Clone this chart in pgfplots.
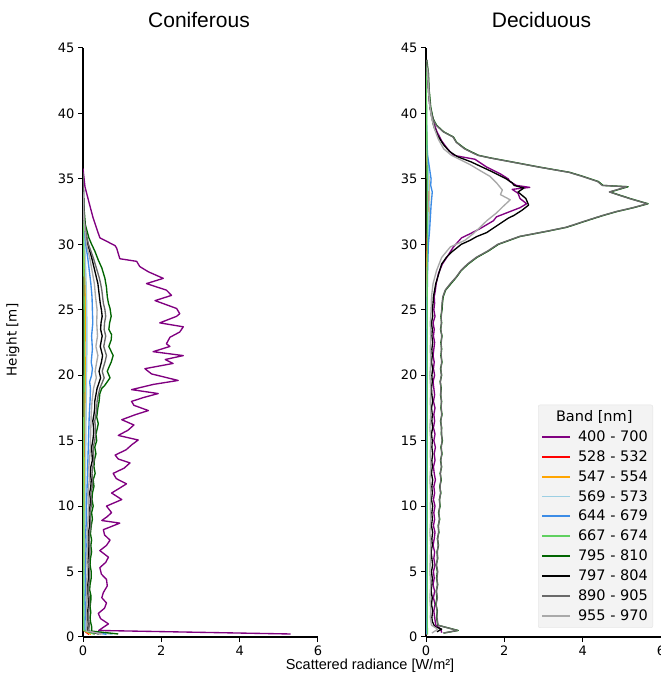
\documentclass[border=0pt]{standalone}
\usepackage{fontspec}
\setmainfont{DejaVu Sans}
\newfontfamily\arial{Liberation Sans}
\usepackage{pgfplots}
\pgfplotsset{compat=1.18}
\definecolor{colPurple}{HTML}{800080}
\definecolor{colRed}{HTML}{FF0000}
\definecolor{colOrange}{HTML}{FFA500}
\definecolor{colLBlue}{HTML}{9CCFE3}
\definecolor{colBlue}{HTML}{3C8CE6}
\definecolor{colLGreen}{HTML}{60D060}
\definecolor{colGreen}{HTML}{006400}
\definecolor{colBlack}{HTML}{000000}
\definecolor{colDGrey}{HTML}{696969}
\definecolor{colLGrey}{HTML}{A9A9A9}
\definecolor{lgbg}{HTML}{F3F3F3}
\pgfplotsset{
  panel/.style={
    scale only axis, width=235pt, height=589pt, anchor=south west,
    xmin=0, xmax=6, ymin=0, ymax=45,
    axis x line*=bottom, axis y line*=left,
    axis line style={-, black, line width=1.2pt},
    xtick={0,2,4,6}, ytick={0,5,...,45},
    tick align=outside, major tick length=5pt,
    tick style={black, line width=1pt},
    ticklabel style={font=\fontsize{13}{13}\selectfont},
    /pgf/number format/assume math mode=true,
    every axis plot/.append style={line width=1.35pt, line join=round},
  }
}
\begin{document}
\begin{tikzpicture}
% ---------------- Coniferous ----------------
\begin{axis}[panel, at={(83pt,44pt)}]
\addplot[draw=colPurple] coordinates {(5.30,0.23)(0.40,0.5)(0.65,1.0)(0.45,1.4)(0.39,1.8)(0.55,2.2)(0.60,2.6)(0.48,3.0)(0.52,3.4)(0.62,3.9)(0.60,4.4)(0.47,4.8)(0.43,5.3)(0.58,5.7)(0.65,6.1)(0.43,6.6)(0.60,7.0)(0.69,7.4)(0.55,7.8)(0.52,8.2)(0.94,8.7)(0.48,8.9)(0.62,9.2)(0.73,9.5)(0.60,10.0)(0.99,10.5)(0.73,11.0)(0.95,11.4)(1.11,11.7)(0.85,12.1)(0.77,12.5)(1.05,12.9)(1.20,13.3)(0.90,13.6)(0.82,13.9)(1.10,14.3)(1.25,14.7)(1.41,15.05)(0.90,15.4)(1.15,15.8)(1.30,16.2)(0.99,16.6)(1.35,17.0)(1.67,17.3)(1.30,17.7)(1.24,18.0)(1.55,18.3)(1.92,18.6)(1.24,18.9)(1.80,19.3)(2.43,19.6)(1.75,20.1)(1.58,20.5)(2.30,20.9)(2.10,21.2)(2.56,21.5)(1.79,21.8)(2.22,22.2)(2.13,22.4)(2.22,22.9)(2.47,23.3)(2.56,23.7)(1.96,24.0)(2.39,24.5)(2.47,24.7)(2.39,25.1)(1.84,25.7)(2.26,26.1)(2.13,26.5)(1.62,27.0)(2.05,27.4)(1.67,27.9)(1.45,28.3)(1.37,28.7)(0.94,28.9)(0.90,29.3)(0.86,29.7)(0.82,29.9)(0.43,30.5)(0.35,31.2)(0.26,32.0)(0.18,32.9)(0.05,34.4)(0.00,35.8)};
\addplot[draw=colRed] coordinates {(0.15,0.2)(0.02,0.5)(0.02,3)(0.02,8)(0.03,12)(0.03,16)(0.04,20)(0.04,24)(0.03,28)(0.02,30)(0.01,32)(0.0,34)};
\addplot[draw=colOrange] coordinates {(0.20,0.2)(0.03,0.5)(0.03,2)(0.03,5)(0.04,8)(0.04,11)(0.05,14)(0.05,17)(0.06,20)(0.05,22)(0.06,24)(0.06,26)(0.05,28)(0.04,29.5)(0.02,31)(0.01,33)(0.0,35)};
\addplot[draw=colLBlue] coordinates {(0.75,0.2)(0.04,0.5)(0.04,2)(0.05,5)(0.05,8)(0.06,11)(0.07,14)(0.08,17)(0.09,20)(0.10,22)(0.10,24)(0.09,26)(0.07,28)(0.05,29.5)(0.03,31)(0.01,33)(0.0,35)};
\addplot[draw=colBlue] coordinates {(0.60,0.2)(0.05,0.5)(0.05,1)(0.06,2)(0.05,3)(0.07,4)(0.06,5)(0.07,6)(0.08,7)(0.07,8)(0.09,9)(0.09,10)(0.10,11)(0.11,12)(0.12,13)(0.13,14)(0.14,15)(0.15,16)(0.16,17)(0.18,18)(0.19,19)(0.17,19.5)(0.22,20)(0.24,20.5)(0.21,21)(0.24,22)(0.22,23)(0.25,24)(0.24,25)(0.23,26)(0.20,27)(0.16,28)(0.12,29)(0.07,30)(0.04,31)(0.02,32)(0.01,34)(0.0,35)};
\addplot[draw=colLGreen] coordinates {(0.30,0.2)(0.02,0.5)(0.02,5)(0.02,10)(0.02,15)(0.03,20)(0.03,25)(0.02,29)(0.01,31)(0.0,33)};
\addplot[draw=colGreen] coordinates {(0.90,0.23)(0.22,0.45)(0.22,0.8)(0.19,1.2)(0.18,1.5)(0.20,1.9)(0.18,2.3)(0.20,2.8)(0.20,3.2)(0.17,3.6)(0.18,4.0)(0.21,4.5)(0.21,5.0)(0.18,5.5)(0.19,6.0)(0.22,6.5)(0.20,7.0)(0.22,7.4)(0.19,7.9)(0.21,8.5)(0.24,9.0)(0.22,9.5)(0.26,10.0)(0.23,10.5)(0.24,11.0)(0.28,11.5)(0.26,12.0)(0.31,12.5)(0.28,13.0)(0.29,13.5)(0.33,14.0)(0.30,14.5)(0.35,15.0)(0.33,15.5)(0.37,16.0)(0.39,16.3)(0.35,16.8)(0.38,17.5)(0.41,18.0)(0.43,18.6)(0.48,19.0)(0.55,19.2)(0.69,19.8)(0.62,20.3)(0.66,20.6)(0.72,21.0)(0.77,21.5)(0.66,22.2)(0.72,22.7)(0.73,23.1)(0.66,23.5)(0.68,24.0)(0.72,24.5)(0.69,25.1)(0.65,25.5)(0.62,26.0)(0.60,26.7)(0.56,27.4)(0.48,28.2)(0.39,28.8)(0.30,29.5)(0.22,30.0)(0.15,30.5)(0.06,31.5)(0.02,33)(0.0,35)};
\addplot[draw=colBlack] coordinates {(0.40,0.23)(0.12,0.45)(0.13,1)(0.11,1.5)(0.12,2)(0.14,2.5)(0.13,3)(0.11,3.5)(0.12,4)(0.14,4.5)(0.14,5)(0.12,5.5)(0.13,6)(0.15,6.5)(0.15,7)(0.13,7.5)(0.14,8)(0.17,8.5)(0.16,9)(0.15,9.5)(0.18,10)(0.19,10.5)(0.17,11)(0.20,11.5)(0.21,12)(0.19,12.5)(0.20,13)(0.24,13.5)(0.23,14)(0.22,14.5)(0.25,15)(0.27,15.5)(0.27,16)(0.25,16.5)(0.28,17)(0.30,17.5)(0.30,18)(0.33,18.5)(0.36,19)(0.45,19.8)(0.41,20.3)(0.47,21)(0.50,21.5)(0.44,22.2)(0.49,23)(0.45,23.5)(0.46,24)(0.49,24.5)(0.47,25)(0.44,25.5)(0.42,26)(0.40,26.5)(0.38,27)(0.34,27.5)(0.30,28)(0.26,28.5)(0.22,29)(0.17,29.5)(0.12,30)(0.06,31)(0.03,32)(0.01,34)(0.0,35)};
\addplot[draw=colDGrey] coordinates {(0.45,0.23)(0.15,0.45)(0.16,1)(0.14,1.5)(0.15,2)(0.17,2.5)(0.16,3)(0.14,3.5)(0.15,4)(0.17,4.5)(0.17,5)(0.15,5.5)(0.16,6)(0.18,6.5)(0.18,7)(0.16,7.5)(0.17,8)(0.20,8.5)(0.19,9)(0.18,9.5)(0.21,10)(0.22,10.5)(0.20,11)(0.24,11.5)(0.25,12)(0.23,12.5)(0.25,13)(0.28,13.5)(0.27,14)(0.26,14.5)(0.30,15)(0.32,15.5)(0.32,16)(0.30,16.5)(0.33,17)(0.35,17.5)(0.36,18)(0.39,18.5)(0.43,19)(0.54,19.8)(0.49,20.3)(0.56,21)(0.60,21.5)(0.53,22.2)(0.58,23)(0.54,23.5)(0.55,24)(0.58,24.5)(0.56,25)(0.52,25.5)(0.50,26)(0.48,26.5)(0.45,27)(0.41,27.5)(0.36,28)(0.31,28.5)(0.26,29)(0.20,29.5)(0.14,30)(0.07,31)(0.03,32)(0.01,34)(0.0,35.5)};
\addplot[draw=colLGrey] coordinates {(0.50,0.23)(0.09,0.45)(0.10,1)(0.09,2)(0.10,3)(0.09,4)(0.11,5)(0.10,6)(0.12,7)(0.11,8)(0.13,9)(0.14,10)(0.13,11)(0.16,12)(0.15,13)(0.18,14)(0.19,15)(0.20,16)(0.21,17)(0.23,18)(0.27,19)(0.34,19.8)(0.31,20.3)(0.35,21)(0.38,21.5)(0.33,22.2)(0.37,23)(0.35,24)(0.36,25)(0.32,26)(0.29,27)(0.23,28)(0.17,29)(0.09,30)(0.05,31)(0.02,32)(0.0,34)};
\end{axis}
% ---------------- Deciduous ----------------
\begin{axis}[panel, at={(426pt,44pt)},
  legend style={at={(0.966,0.0153)}, anchor=south east, fill=lgbg, draw=lgbg!85!gray,
    rounded corners=2pt, font=\fontsize{14.5}{14.5}\selectfont, row sep=3.6pt,
    inner xsep=3pt, inner ysep=4pt,
    /tikz/every odd column/.append style={column sep=5pt}},
  legend cell align=left,
  legend image code/.code={\draw[#1, line width=1.8pt] (0pt,0pt) -- (28pt,0pt);},
]
\addlegendimage{empty legend}
\addlegendentry{\hspace*{-22pt}Band [nm]}
\addplot[draw=colPurple] coordinates {(0.40,0.33)(0.38,0.6)(0.25,0.9)(0.22,1.5)(0.20,2)(0.23,2.5)(0.19,3)(0.22,3.5)(0.18,4)(0.21,4.5)(0.19,5)(0.23,5.5)(0.20,6)(0.22,6.5)(0.18,7)(0.21,7.5)(0.23,8)(0.19,8.5)(0.22,9)(0.20,9.5)(0.23,10)(0.19,10.5)(0.22,11)(0.20,11.5)(0.24,12)(0.21,12.5)(0.19,13)(0.23,13.5)(0.21,14)(0.24,14.5)(0.20,15)(0.23,15.5)(0.19,16)(0.22,16.5)(0.20,17)(0.23,17.5)(0.19,18)(0.22,18.5)(0.20,19)(0.18,19.5)(0.22,20)(0.19,20.5)(0.21,21)(0.18,21.5)(0.20,22)(0.22,22.5)(0.19,23)(0.21,23.5)(0.18,24)(0.23,24.5)(0.20,25)(0.22,25.5)(0.21,26)(0.24,26.5)(0.26,27)(0.32,27.8)(0.42,28.5)(0.53,29.0)(0.70,29.8)(0.82,30.2)(0.91,30.5)(1.12,30.8)(1.38,31.2)(1.55,31.5)(1.72,31.8)(1.80,32.1)(1.97,32.3)(2.40,32.8)(2.57,33.1)(2.40,33.5)(2.35,33.9)(2.20,34.2)(2.65,34.35)(2.31,34.5)(2.14,34.8)(2.10,35.0)(1.89,35.4)(1.55,35.9)(1.25,36.5)(0.70,36.8)(0.55,37.3)(0.40,37.9)(0.28,38.6)(0.22,39.1)(0.19,39.5)(0.10,40.5)(0.07,41.5)(0.05,42.5)(0.03,43.5)};
\addlegendentry{400 - 700}
\addplot[draw=colRed] coordinates {(0.02,0.2)(0.01,5)(0.01,15)(0.01,25)(0.02,29)(0.03,30.5)(0.05,31.5)(0.06,32.5)(0.07,33.5)(0.06,34.5)(0.04,35.5)(0.02,36.5)(0.01,38)(0.0,40)};
\addlegendentry{528 - 532}
\addplot[draw=colOrange] coordinates {(0.03,0.2)(0.01,5)(0.01,15)(0.015,25)(0.03,29)(0.05,30.5)(0.07,31.5)(0.08,32.5)(0.09,33.5)(0.08,34.5)(0.06,35.5)(0.03,36.5)(0.01,38)(0.0,40)};
\addlegendentry{547 - 554}
\addplot[draw=colLBlue] coordinates {(0.03,0.2)(0.01,5)(0.015,15)(0.02,25)(0.04,29)(0.06,31)(0.08,33)(0.07,35)(0.04,36.5)(0.02,38)(0.0,40)};
\addlegendentry{569 - 573}
\addplot[draw=colBlue] coordinates {(0.02,0.2)(0.01,5)(0.01,10)(0.015,15)(0.02,20)(0.025,25)(0.04,28)(0.06,30)(0.09,31)(0.11,32)(0.13,33)(0.16,34)(0.12,34.5)(0.13,35)(0.08,36)(0.04,36.8)(0.02,38)(0.01,40)(0.005,42)};
\addlegendentry{644 - 679}
\addplot[draw=colLGreen] coordinates {(0.04,0.2)(0.03,1)(0.03,10)(0.03,20)(0.03,30)(0.03,35)(0.02,39)(0.01,42)(0.0,44)};
\addlegendentry{667 - 674}
\addplot[draw=colGreen] coordinates {(0.45,0.3)(0.82,0.5)(0.30,0.9)(0.27,1.5)(0.29,2)(0.25,2.5)(0.28,3)(0.26,3.5)(0.30,4)(0.27,4.5)(0.29,5)(0.26,5.5)(0.30,6)(0.28,6.5)(0.32,7)(0.29,7.5)(0.33,8)(0.31,8.5)(0.35,9)(0.32,9.5)(0.36,10)(0.34,10.5)(0.38,11)(0.35,11.5)(0.39,12)(0.36,12.5)(0.40,13)(0.37,13.5)(0.41,14)(0.38,14.5)(0.42,15)(0.39,15.5)(0.40,16)(0.37,16.5)(0.41,17)(0.38,17.5)(0.40,18)(0.37,18.5)(0.39,19)(0.36,19.5)(0.40,20)(0.37,20.5)(0.41,21)(0.38,21.5)(0.40,22)(0.38,22.5)(0.41,23)(0.37,23.5)(0.40,24)(0.38,24.5)(0.41,25)(0.42,25.5)(0.44,26)(0.50,26.5)(0.64,27)(0.78,27.5)(0.90,28)(1.08,28.5)(1.30,29)(1.60,29.5)(1.85,30)(2.40,30.6)(3.10,31.0)(3.59,31.3)(4.10,31.8)(4.52,32.2)(4.87,32.5)(5.30,32.8)(5.67,33.1)(5.21,33.5)(4.70,34.0)(5.16,34.4)(4.52,34.5)(4.40,34.8)(4.00,35.2)(3.67,35.5)(2.90,35.9)(2.19,36.3)(1.65,36.6)(1.34,36.8)(1.00,37.3)(0.78,37.8)(0.70,38.2)(0.45,38.6)(0.27,39.1)(0.18,39.6)(0.12,40.5)(0.10,41.2)(0.08,41.8)(0.07,42.5)(0.06,43.1)(0.04,43.6)(0.02,44.1)};
\addlegendentry{795 - 810}
\addplot[draw=colBlack] coordinates {(0.28,0.4)(0.40,0.6)(0.22,0.8)(0.16,1.2)(0.15,1.5)(0.17,2)(0.14,2.5)(0.16,3)(0.13,3.5)(0.15,4)(0.16,4.5)(0.14,5)(0.17,5.5)(0.15,6)(0.13,6.5)(0.16,7)(0.15,7.5)(0.17,8)(0.14,8.5)(0.16,9)(0.15,9.5)(0.17,10)(0.14,10.5)(0.16,11)(0.15,11.5)(0.17,12)(0.14,12.5)(0.16,13)(0.15,13.5)(0.17,14)(0.15,14.5)(0.16,15)(0.14,15.5)(0.17,16)(0.15,16.5)(0.16,17)(0.14,17.5)(0.17,18)(0.15,18.5)(0.14,19)(0.16,19.5)(0.15,20)(0.17,20.5)(0.14,21)(0.16,21.5)(0.15,22)(0.17,22.5)(0.15,23)(0.16,23.5)(0.14,24)(0.17,24.5)(0.16,25)(0.18,25.5)(0.19,26)(0.22,26.5)(0.25,27)(0.33,27.8)(0.40,28.5)(0.52,29.0)(0.65,29.4)(0.90,30.0)(1.12,30.3)(1.30,30.6)(1.55,30.9)(1.85,31.5)(2.10,32.0)(2.24,32.2)(2.45,32.6)(2.62,33.0)(2.55,33.5)(2.35,34.0)(2.50,34.3)(2.25,34.5)(2.20,34.7)(2.05,35.0)(1.65,35.6)(1.15,36.3)(0.80,36.7)(0.60,37.1)(0.45,37.6)(0.30,38.3)(0.20,39.0)(0.14,39.8)(0.10,40.5)(0.07,41.5)(0.05,42.5)(0.03,43.5)};
\addlegendentry{797 - 804}
\addplot[draw=colDGrey] coordinates {(0.44,0.3)(0.80,0.5)(0.31,0.9)(0.28,1.5)(0.28,2)(0.26,2.5)(0.29,3)(0.27,3.5)(0.29,4)(0.28,4.5)(0.30,5)(0.27,5.5)(0.29,6)(0.29,6.5)(0.31,7)(0.30,7.5)(0.32,8)(0.32,8.5)(0.34,9)(0.33,9.5)(0.35,10)(0.35,10.5)(0.37,11)(0.36,11.5)(0.38,12)(0.37,12.5)(0.39,13)(0.38,13.5)(0.40,14)(0.39,14.5)(0.41,15)(0.40,15.5)(0.39,16)(0.38,16.5)(0.40,17)(0.39,17.5)(0.39,18)(0.38,18.5)(0.38,19)(0.37,19.5)(0.39,20)(0.38,20.5)(0.40,21)(0.39,21.5)(0.39,22)(0.39,22.5)(0.40,23)(0.38,23.5)(0.39,24)(0.39,24.5)(0.40,25)(0.41,25.5)(0.43,26)(0.49,26.5)(0.62,27)(0.77,27.5)(0.89,28)(1.06,28.5)(1.28,29)(1.58,29.5)(1.83,30)(2.38,30.6)(3.08,31.0)(3.57,31.3)(4.08,31.8)(4.50,32.2)(4.85,32.5)(5.28,32.8)(5.65,33.1)(5.19,33.5)(4.68,34.0)(5.13,34.4)(4.50,34.5)(4.38,34.8)(3.98,35.2)(3.65,35.5)(2.88,35.9)(2.17,36.3)(1.63,36.6)(1.32,36.8)(0.98,37.3)(0.77,37.8)(0.69,38.2)(0.44,38.6)(0.26,39.1)(0.17,39.6)(0.11,40.5)(0.09,41.2)(0.08,41.8)(0.06,42.5)(0.06,43.1)(0.03,43.6)(0.02,44.1)};
\addlegendentry{890 - 905}
\addplot[draw=colLGrey] coordinates {(0.15,0.3)(0.30,0.6)(0.14,0.9)(0.11,1.5)(0.12,2)(0.10,3)(0.12,4)(0.10,5)(0.11,6)(0.12,7)(0.10,8)(0.12,9)(0.11,10)(0.12,11)(0.10,12)(0.12,13)(0.11,14)(0.12,15)(0.10,16)(0.12,17)(0.11,18)(0.12,19)(0.10,20)(0.12,21)(0.11,22)(0.12,23)(0.11,24)(0.13,25)(0.14,26)(0.18,27)(0.27,28)(0.40,29)(0.62,29.8)(0.99,30.3)(1.20,30.8)(1.38,31.3)(1.55,31.8)(1.80,32.4)(1.97,32.9)(2.15,33.4)(1.90,33.8)(1.95,34.15)(1.80,34.7)(1.63,35.2)(1.40,35.6)(1.12,36.1)(0.65,36.8)(0.45,37.3)(0.32,38.0)(0.22,38.8)(0.15,39.6)(0.10,40.5)(0.07,41.5)(0.05,42.5)(0.03,43.5)};
\addlegendentry{955 - 970}
\end{axis}
% ---------------- texts ----------------
\node[font=\arial\fontsize{21}{21}\selectfont, anchor=base] at (199pt,653pt) {Coniferous};
\node[font=\arial\fontsize{21}{21}\selectfont, anchor=base] at (541.5pt,653pt) {Deciduous};
\node[font=\arial\fontsize{14.5}{14.5}\selectfont, anchor=base] at (370pt,12pt) {Scattered radiance [W/m²]};
\node[font=\fontsize{13.5}{13.5}\selectfont, rotate=90, anchor=center] at (13pt,341pt) {Height [m]};
\pgfresetboundingbox
\path[use as bounding box] (0pt,0pt) rectangle (661pt,681pt);
\end{tikzpicture}
\end{document}
